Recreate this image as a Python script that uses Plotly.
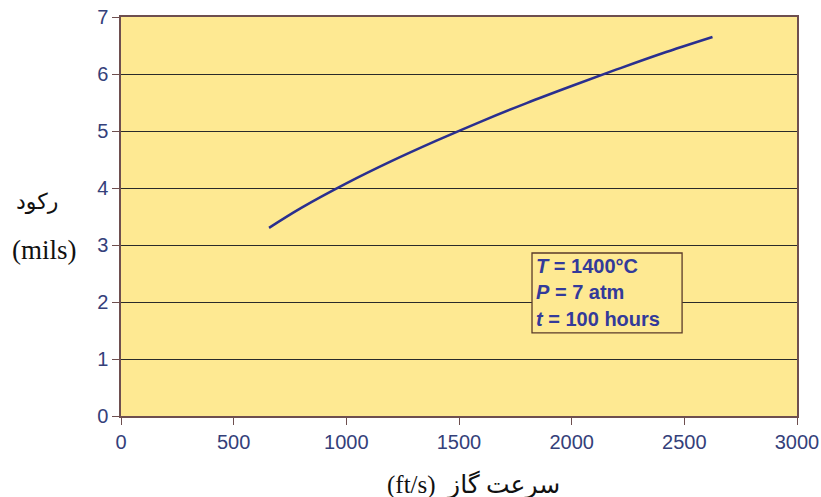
import plotly.graph_objects as go

# Gas velocity (ft/s) vs. recession (mils)
velocity = [657, 800, 1000, 1200, 1400, 1600, 1800, 2000, 2200, 2400, 2625]
recession = [3.30, 3.65, 4.08, 4.47, 4.83, 5.17, 5.49, 5.79, 6.08, 6.36, 6.65]

x_ticks = [0, 500, 1000, 1500, 2000, 2500, 3000]
y_ticks = [0, 1, 2, 3, 4, 5, 6, 7]

fill = "#FEE992"
axis_col = "#6e4f4f"
tick_font = dict(family="Liberation Sans, Arial", size=20, color="#34407a")

fig = go.Figure()
fig.add_trace(go.Scatter(
    x=velocity, y=recession, mode="lines",
    line=dict(color="#2a2f8f", width=2.5, shape="spline"),
    showlegend=False, hoverinfo="skip",
))

# condition box
fig.add_shape(type="rect", x0=1824, x1=2490, y0=1.46, y1=2.86,
              xref="x", yref="y", line=dict(color="#5a3a2a", width=1.3),
              fillcolor=fill, layer="above")
conditions = ["<i>T</i> = 1400°C", "<i>P</i> = 7 atm", "<i>t</i> = 100 hours"]
for i, txt in enumerate(conditions):
    fig.add_annotation(x=1835, y=2.63 - i * 0.46, xref="x", yref="y",
                       text="<b>" + txt + "</b>", showarrow=False,
                       xanchor="left", yanchor="middle",
                       font=dict(family="Liberation Sans, Arial", size=20, color="#333a9a"))

# axis titles
plot_h = 398.5
plot_w = 676
fig.add_annotation(x=(37 - 121) / plot_w, y=(416 - 202) / plot_h, xref="paper", yref="paper",
                   text="رکود", showarrow=False, xanchor="center", yanchor="middle",
                   font=dict(family="DejaVu Sans, Noto Sans", size=22, color="#111"))
fig.add_annotation(x=(44 - 121) / plot_w, y=(416 - 250) / plot_h, xref="paper", yref="paper",
                   text="(mils)", showarrow=False, xanchor="center", yanchor="middle",
                   font=dict(family="Liberation Serif, Times New Roman", size=27, color="#111"))
fig.add_annotation(x=(474 - 121) / plot_w, y=-(484 - 416) / plot_h, xref="paper", yref="paper",
                   text="(ft/s)  سرعت گاز", showarrow=False, xanchor="center", yanchor="middle",
                   font=dict(family="Liberation Serif, DejaVu Sans", size=25, color="#111"))

fig.update_xaxes(range=[0, 3000], tickvals=x_ticks, ticks="outside", ticklen=7,
                 tickcolor=axis_col, showline=True, linecolor=axis_col, linewidth=1.5,
                 mirror=True, showgrid=False, zeroline=False, tickfont=tick_font,
                 automargin=False)
fig.update_yaxes(range=[0, 7], tickvals=y_ticks, ticks="outside", ticklen=7,
                 tickcolor=axis_col, showline=True, linecolor=axis_col, linewidth=1.5,
                 mirror=True, showgrid=True, gridcolor="#2a2a2a", gridwidth=1,
                 zeroline=False, tickfont=tick_font, automargin=False)

fig.update_layout(
    width=821, height=497,
    margin=dict(l=121, r=24, t=17, b=81),
    plot_bgcolor=fill, paper_bgcolor="white",
)

fig.write_html("out.html")
